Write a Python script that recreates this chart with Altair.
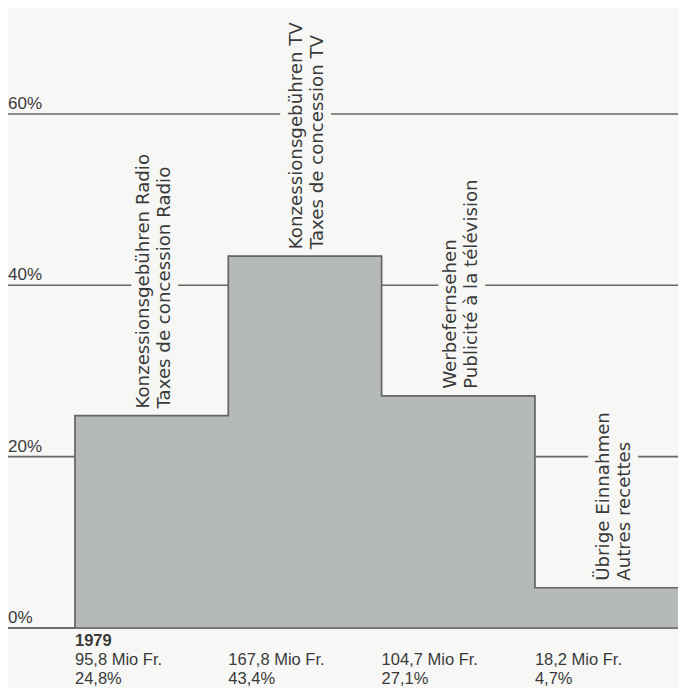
import altair as alt
import pandas as pd

# ---- data ----
year = "1979"
labels_de = ["Konzessionsgebühren Radio", "Konzessionsgebühren TV", "Werbefernsehen", "Übrige Einnahmen"]
labels_fr = ["Taxes de concession Radio", "Taxes de concession TV", "Publicité à la télévision", "Autres recettes"]
amounts = ["95,8 Mio Fr.", "167,8 Mio Fr.", "104,7 Mio Fr.", "18,2 Mio Fr."]
shares = [24.8, 43.4, 27.1, 4.7]
ticks = [0, 20, 40, 60]

# ---- styling / layout ----
W, H = 670, 680
BG = "#f7f8f6"
INK = "#3a3a3a"
GRID = "#666666"
FILL = "#b5b9b7"
SANS = "Liberation Sans"
LABEL_FONT = "DejaVu Sans"

x0_px, bw = 67.0, 153.3      # left edge of first column, column width (px)
y0_px, ppu = 620.0, 8.567    # baseline position, px per percent
xs = alt.Scale(domain=[-x0_px / bw, (W - x0_px) / bw], nice=False, zero=False)
ys = alt.Scale(domain=[(y0_px - H) / ppu, y0_px / ppu], nice=False, zero=False)

n = len(shares)
bars = pd.DataFrame({
    "i": list(range(n)),
    "i2": [i + 1 for i in range(n)],
    "share": shares,
    "base": [0] * n,
    "label": [d + "\n" + f for d, f in zip(labels_de, labels_fr)],
    "lx": [i + 0.483 for i in range(n)],
    "amount": amounts,
    "pct": [f"{s:.1f}".replace(".", ",") + "%" for s in shares],
})

# step outline derived from the shares
ox, oy = [0], [0]
for i, s in enumerate(shares):
    ox += [i, i + 1]
    oy += [s, s]
outline = pd.DataFrame({"x": ox, "y": oy, "o": list(range(len(ox)))})

grid = pd.DataFrame({"t": ticks, "lab": [f"{t}%" for t in ticks]})
yr = pd.DataFrame({"i": [0], "base": [0], "txt": [year]})

X = lambda f: alt.X(f, scale=xs, axis=None)
Y = lambda f: alt.Y(f, scale=ys, axis=None)

rules = alt.Chart(grid).mark_rule(color=GRID, strokeWidth=1.6).encode(
    y=Y("t:Q"), x=alt.value(0), x2=alt.value(W))
ticklabs = alt.Chart(grid).mark_text(
    align="left", baseline="alphabetic", dy=-5, font=SANS, fontSize=17, color=INK
).encode(y=Y("t:Q"), x=alt.value(0), text="lab:N")

text_props = dict(angle=270, align="left", baseline="alphabetic", lineBreak="\n",
                  lineHeight=21, dx=7, font=LABEL_FONT, fontSize=18.2)
halo = alt.Chart(bars).mark_text(
    fill=BG, stroke=BG, strokeWidth=16, strokeJoin="round", **text_props
).encode(x=X("lx:Q"), y=Y("share:Q"), text="label:N")

rects = alt.Chart(bars).mark_rect(fill=FILL, stroke=FILL, strokeWidth=1).encode(
    x=X("i:Q"), x2="i2", y=Y("base:Q"), y2="share")
line = alt.Chart(outline).mark_line(color=GRID, strokeWidth=1.7).encode(
    x=X("x:Q"), y=Y("y:Q"), order="o:Q")
zero = alt.Chart(grid[grid.t == 0]).mark_rule(color=GRID, strokeWidth=1.7).encode(
    y=Y("t:Q"), x=alt.value(0), x2=alt.value(W))

labels = alt.Chart(bars).mark_text(color=INK, **text_props).encode(
    x=X("lx:Q"), y=Y("share:Q"), text="label:N")

year_t = alt.Chart(yr).mark_text(
    align="left", baseline="alphabetic", dy=18, font=SANS, fontSize=16.5,
    fontWeight="bold", color=INK
).encode(x=X("i:Q"), y=Y("base:Q"), text="txt:N")
amt_t = alt.Chart(bars).mark_text(
    align="left", baseline="alphabetic", dy=37, font=SANS, fontSize=16.5, color=INK
).encode(x=X("i:Q"), y=Y("base:Q"), text="amount:N")
pct_t = alt.Chart(bars).mark_text(
    align="left", baseline="alphabetic", dy=56, font=SANS, fontSize=16.5, color=INK
).encode(x=X("i:Q"), y=Y("base:Q"), text="pct:N")

chart = alt.layer(
    rules, ticklabs, halo, rects, line, zero, labels, year_t, amt_t, pct_t
).properties(
    width=W, height=H, background=BG, padding=0,
    autosize=alt.AutoSizeParams(type="none"),
).configure_view(stroke=None)

chart.save("out.html", embed_options={"renderer": "svg", "actions": False})
